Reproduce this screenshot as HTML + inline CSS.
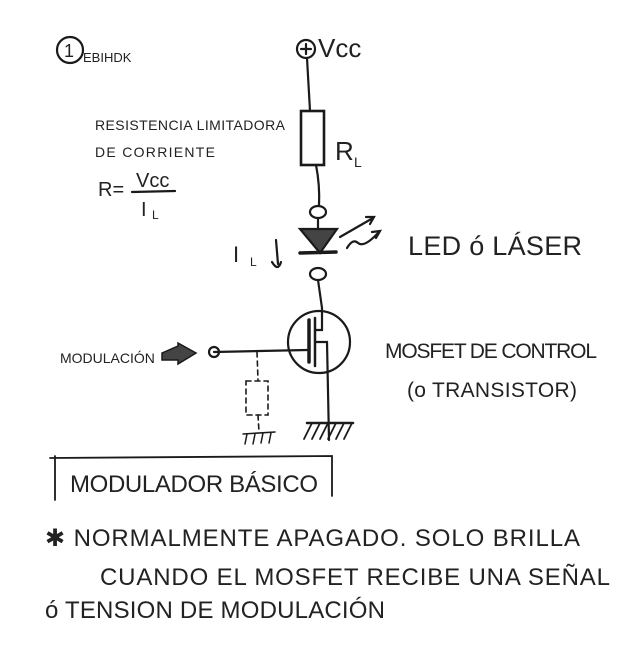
<!DOCTYPE html>
<html><head><style>
html,body{margin:0;padding:0;background:#fff;}
svg{display:block;}
text{font-family:"Liberation Sans",sans-serif;fill:#222;}
</style></head><body>
<svg width="640" height="657" viewBox="0 0 640 657" xmlns="http://www.w3.org/2000/svg" stroke="#1a1a1a" fill="none" stroke-width="2.2" stroke-linecap="round">
<circle cx="70" cy="50" r="13"/>
<text x="64" y="57" font-size="18" stroke="none">1</text>
<text x="83" y="62" font-size="13" stroke="none">EBIHDK</text>
<circle cx="306" cy="49" r="9"/>
<line x1="301" y1="49" x2="311" y2="49"/><line x1="306" y1="44" x2="306" y2="54"/>
<text x="318" y="57" font-size="26" stroke="none">Vcc</text>
<path d="M307 58 L310 111"/>
<rect x="301" y="111" width="23" height="54" stroke-width="2.6"/>
<text x="335" y="160" font-size="26" stroke="none">R</text><text x="354" y="167" font-size="14" stroke="none">L</text>
<path d="M316 165 Q320 185 319 206"/>
<ellipse cx="318" cy="212" rx="8" ry="6"/>
<line x1="318" y1="218" x2="318" y2="228"/>
<path d="M300 229 L337 229 L320 253 Z" fill="#444"/>
<line x1="300" y1="253" x2="336" y2="252" stroke-width="3.5"/>
<ellipse cx="318" cy="274" rx="8" ry="6"/>
<line x1="318" y1="280" x2="322" y2="308"/>
<path d="M340 237 L373 218"/><path d="M366 217 L374 217 L370 224"/>
<path d="M347 248 Q353 238 358 243 Q364 248 378 233"/><path d="M372 232 L380 231 L376 238"/>
<text x="408" y="255" font-size="27" stroke="none" textLength="174">LED ó LÁSER</text>
<text x="233" y="262" font-size="22" stroke="none">I</text><text x="250" y="266" font-size="12" stroke="none">L</text>
<path d="M276 240 L278 264"/><path d="M272 262 Q278 272 281 262"/>
<circle cx="319" cy="342" r="31"/>
<line x1="309" y1="320" x2="309" y2="362" stroke-width="3.5"/>
<line x1="315" y1="318" x2="315" y2="366" stroke-width="2.5"/>
<path d="M322 308 L322 330 L316 330"/>
<path d="M316 342 L327 342 L329 440"/>
<line x1="214" y1="352" x2="307" y2="350"/>
<circle cx="214" cy="352" r="5"/>
<g stroke-dasharray="5 4" stroke-width="1.6">
<line x1="257" y1="352" x2="258" y2="380"/>
<rect x="246" y="381" width="22" height="34"/>
<line x1="258" y1="415" x2="259" y2="432"/>
</g>
<path d="M243 434 L275 432 M247 434 l-2 10 M255 434 l-2 10 M263 433 l-2 10 M271 433 l-2 10" stroke-width="1.5"/>
<line x1="307" y1="423" x2="353" y2="423" stroke-width="2.5"/>
<path d="M312 423 l-8 16 M320 423 l-8 16 M328 423 l-8 16 M336 423 l-8 16 M344 423 l-8 16 M352 423 l-8 16" stroke-width="1.8"/>
<text x="95" y="130" font-size="14" stroke="none" textLength="190">RESISTENCIA LIMITADORA</text>
<text x="95" y="157" font-size="14" stroke="none" textLength="120">DE CORRIENTE</text>
<text x="98" y="196" font-size="20" stroke="none">R=</text>
<text x="136" y="187" font-size="20" stroke="none">Vcc</text>
<line x1="132" y1="192" x2="175" y2="191"/>
<text x="141" y="216" font-size="20" stroke="none">I</text><text x="152" y="219" font-size="12" stroke="none">L</text>
<text x="60" y="363" font-size="14" stroke="none">MODULACIÓN</text>
<path d="M162 353 L178 346 L178 343 L196 353 L178 364 L178 360 L162 360 Z" fill="#444" stroke-width="1.5"/>
<text x="385" y="358" font-size="21" stroke="none" textLength="212">MOSFET DE CONTROL</text>
<text x="407" y="397" font-size="21" stroke="none" textLength="170">(o TRANSISTOR)</text>
<path d="M55 456 L55 500 M50 458 L332 456 L332 496" stroke-width="1.8"/>
<text x="70" y="492" font-size="24" stroke="none" textLength="248">MODULADOR BÁSICO</text>
<text x="45" y="546" font-size="24" stroke="none" textLength="535">✱ NORMALMENTE APAGADO. SOLO BRILLA</text>
<text x="100" y="585" font-size="24" stroke="none" textLength="510">CUANDO EL MOSFET RECIBE UNA SEÑAL</text>
<text x="45" y="618" font-size="24" stroke="none" textLength="340">ó TENSION DE MODULACIÓN</text>
</svg>
</body></html>
